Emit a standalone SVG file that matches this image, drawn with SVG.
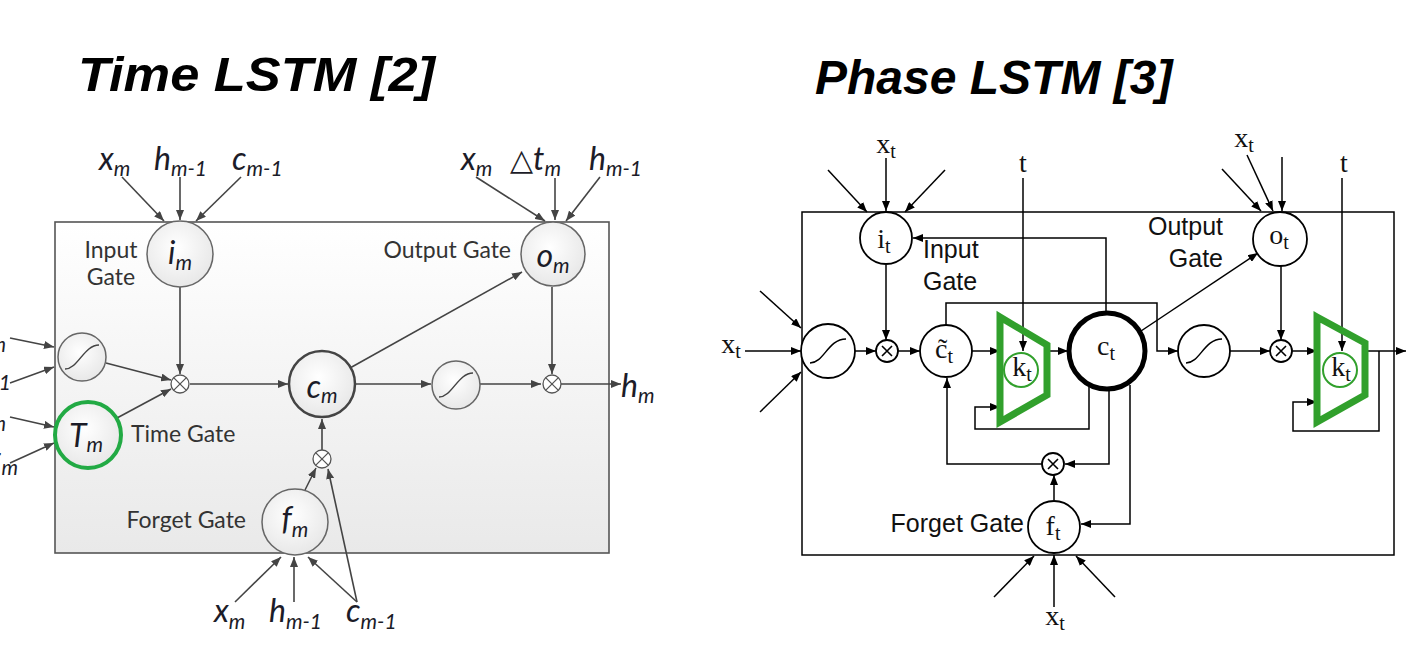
<svg xmlns="http://www.w3.org/2000/svg" width="1406" height="656" viewBox="0 0 1406 656">
<defs>
<linearGradient id="boxg" x1="0" y1="0" x2="0" y2="1"><stop offset="0" stop-color="#ffffff"/><stop offset="1" stop-color="#e9e9e9"/></linearGradient>
<radialGradient id="cg" cx="0.45" cy="0.4" r="0.65"><stop offset="0" stop-color="#ffffff"/><stop offset="1" stop-color="#e6e6e6"/></radialGradient>
<marker id="ag" viewBox="0 0 10 8" refX="10" refY="4" markerWidth="10" markerHeight="8" markerUnits="userSpaceOnUse" orient="auto"><path d="M0,0 L10,4 L0,8 z" fill="#444"/></marker>
<marker id="ab" viewBox="0 0 10 8" refX="10" refY="4" markerWidth="10" markerHeight="8" markerUnits="userSpaceOnUse" orient="auto"><path d="M0,0 L10,4 L0,8 z" fill="#000"/></marker>
</defs>
<style>
.title{font-family:"Liberation Sans",Arial,sans-serif;font-weight:bold;font-style:italic;font-size:48px;fill:#000}
.tm{font-family:Lato,"Open Sans",sans-serif;font-style:italic;font-size:32px;fill:#1c1c28}
.tms{font-size:21px}
.tl{font-family:Lato,"Open Sans",sans-serif;font-size:23px;fill:#333}
.tc{fill:url(#cg);stroke:#666;stroke-width:1.5}
.tln{fill:none;stroke:#444;stroke-width:1.6;marker-end:url(#ag)}
.tx{fill:#fff;stroke:#555;stroke-width:1.3}
.pm{font-family:"Liberation Serif","DejaVu Serif",serif;font-size:28px;fill:#111}
.pms{font-size:20px}
.pl{font-family:"Liberation Sans",Arial,sans-serif;font-size:25px;fill:#111}
.pc{fill:#fff;stroke:#000;stroke-width:1.8}
.pln{fill:none;stroke:#000;stroke-width:1.5}
.pa{fill:none;stroke:#000;stroke-width:1.5;marker-end:url(#ab)}
.grn{fill:none;stroke:#31a02c;stroke-width:7;stroke-linejoin:miter}
.sig{fill:none;stroke:#444;stroke-width:1.5}
</style>
<rect width="1406" height="656" fill="#fff"/>

<text class="title" x="78" y="91" font-size="51" textLength="357" lengthAdjust="spacingAndGlyphs">Time LSTM [2]</text>
<text class="title" x="815" y="94">Phase LSTM [3]</text>

<!-- ================= Time LSTM ================= -->
<g id="tlstm-box"><rect x="55" y="222" width="554" height="331" fill="url(#boxg)" stroke="#555" stroke-width="1.6"/></g>

<g id="tlstm-connectors">
<line class="tln" x1="122" y1="177" x2="164" y2="221"/>
<line class="tln" x1="180" y1="177" x2="180" y2="220"/>
<line class="tln" x1="241" y1="177" x2="196" y2="221"/>
<line class="tln" x1="476" y1="177" x2="545" y2="221"/>
<line class="tln" x1="555" y1="178" x2="555" y2="220"/>
<line class="tln" x1="600" y1="177" x2="566" y2="221"/>
<line class="tln" x1="10" y1="338" x2="54" y2="347"/>
<line class="tln" x1="10" y1="383" x2="54" y2="367"/>
<line class="tln" x1="10" y1="417" x2="54" y2="427"/>
<line class="tln" x1="10" y1="463" x2="54" y2="443"/>
<line class="tln" x1="180" y1="287" x2="180" y2="374"/>
<line class="tln" x1="106" y1="363" x2="171" y2="380"/>
<line class="tln" x1="117" y1="418" x2="171" y2="389"/>
<line class="tln" x1="190" y1="384" x2="288" y2="384"/>
<line class="tln" x1="322" y1="450" x2="322" y2="419"/>
<line class="tln" x1="305" y1="490" x2="316" y2="468"/>
<line class="tln" x1="357" y1="602" x2="328" y2="469"/>
<line class="tln" x1="235" y1="602" x2="281" y2="557"/>
<line class="tln" x1="294" y1="602" x2="294" y2="557"/>
<line class="tln" x1="357" y1="602" x2="308" y2="557"/>
<line class="tln" x1="355" y1="384" x2="431" y2="384"/>
<line class="tln" x1="480" y1="384" x2="541" y2="384"/>
<line class="tln" x1="552" y1="287" x2="552" y2="374"/>
<line class="tln" x1="561" y1="384" x2="621" y2="384"/>
<line class="tln" x1="350" y1="368" x2="522" y2="272"/>
</g>

<g id="t-input-gate"><circle class="tc" cx="180" cy="254" r="33"/><text class="tm" x="180" y="264" text-anchor="middle">i<tspan class="tms" dy="6">m</tspan></text>
<text class="tl" x="111" y="258" text-anchor="middle">Input</text><text class="tl" x="111" y="285" text-anchor="middle">Gate</text></g>
<g id="t-output-gate"><circle class="tc" cx="553" cy="254" r="32"/><text class="tm" x="553" y="267" text-anchor="middle">o<tspan class="tms" dy="6">m</tspan></text>
<text class="tl" x="511" y="258" text-anchor="end">Output Gate</text></g>
<g id="t-sigmoid1"><circle class="tc" cx="82" cy="357" r="24"/><path class="sig" d="M65,369 C78,369 84,345 99,345"/></g>
<g id="t-time-gate"><circle cx="88" cy="435" r="33" fill="url(#cg)" stroke="#22aa44" stroke-width="4"/><text class="tm" x="86" y="447" text-anchor="middle" font-size="34">T<tspan class="tms" dy="5">m</tspan></text>
<text class="tl" x="131" y="442">Time Gate</text></g>
<g id="t-mult1"><circle class="tx" cx="180" cy="384" r="9"/><path d="M173.6,377.6 L186.4,390.4 M186.4,377.6 L173.6,390.4" stroke="#555" stroke-width="1.3"/></g>
<g id="t-cell"><circle cx="322" cy="384" r="33" fill="url(#cg)" stroke="#444" stroke-width="2.5"/><text class="tm" x="322" y="398" text-anchor="middle">c<tspan class="tms" dy="5">m</tspan></text></g>
<g id="t-mult2"><circle class="tx" cx="322" cy="459" r="9"/><path d="M315.6,452.6 L328.4,465.4 M328.4,452.6 L315.6,465.4" stroke="#555" stroke-width="1.3"/></g>
<g id="t-forget-gate"><circle class="tc" cx="295" cy="522" r="33"/><text class="tm" x="295" y="530" text-anchor="middle">f<tspan class="tms" dy="7">m</tspan></text>
<text class="tl" x="246" y="528" text-anchor="end">Forget Gate</text></g>
<g id="t-sigmoid2"><circle class="tc" cx="456" cy="385" r="24"/><path class="sig" d="M439,397 C452,397 458,373 473,373"/></g>
<g id="t-mult3"><circle class="tx" cx="552" cy="384" r="9"/><path d="M545.6,377.6 L558.4,390.4 M558.4,377.6 L545.6,390.4" stroke="#555" stroke-width="1.3"/></g>

<g id="t-labels">
<text class="tm" x="99" y="170">x<tspan class="tms" dy="6">m</tspan></text>
<text class="tm" x="154" y="170">h<tspan class="tms" dy="6">m-1</tspan></text>
<text class="tm" x="232" y="170">c<tspan class="tms" dy="6">m-1</tspan></text>
<text class="tm" x="461" y="170">x<tspan class="tms" dy="6">m</tspan></text>
<text class="tm" x="510" y="170"><tspan font-family="DejaVu Sans" font-style="normal" font-size="30">△</tspan>t<tspan class="tms" dy="6">m</tspan></text>
<text class="tm" x="589" y="170">h<tspan class="tms" dy="6">m-1</tspan></text>
<text class="tm" x="214" y="622">x<tspan class="tms" dy="7">m</tspan></text>
<text class="tm" x="269" y="622">h<tspan class="tms" dy="7">m-1</tspan></text>
<text class="tm" x="346" y="622">c<tspan class="tms" dy="7">m-1</tspan></text>
<text class="tm" x="621" y="397">h<tspan class="tms" dy="6">m</tspan></text>
<text class="tm" x="6" y="347" text-anchor="end">x<tspan class="tms" dy="5">m</tspan></text>
<text class="tm" x="11" y="385" text-anchor="end">h<tspan class="tms" dy="5">m-1</tspan></text>
<text class="tm" x="6" y="426" text-anchor="end">x<tspan class="tms" dy="5">m</tspan></text>
<text class="tm" x="18" y="470" text-anchor="end">t<tspan class="tms" dy="5">m</tspan></text>
</g>

<!-- ================= Phase LSTM ================= -->
<g id="plstm-box"><rect x="802" y="212" width="592" height="343" fill="#fff" stroke="#000" stroke-width="1.5"/></g>

<g id="plstm-connectors">
<line class="pa" x1="886" y1="158" x2="886" y2="211"/>
<line class="pa" x1="828" y1="170" x2="867" y2="212"/>
<line class="pa" x1="945" y1="170" x2="905" y2="212"/>
<line class="pa" x1="745" y1="351" x2="801" y2="351"/>
<line class="pa" x1="760" y1="291" x2="801" y2="328"/>
<line class="pa" x1="760" y1="412" x2="801" y2="372"/>
<line class="pa" x1="886" y1="265" x2="886" y2="340"/>
<line class="pa" x1="855" y1="351" x2="876" y2="351"/>
<line class="pa" x1="898" y1="351" x2="920" y2="351"/>
<line class="pa" x1="972" y1="351" x2="1000" y2="351"/>
<line class="pa" x1="1047" y1="351" x2="1068" y2="351"/>
<line class="pa" x1="1023" y1="178" x2="1023" y2="351"/>
<polyline class="pa" points="1106,312 1106,238 913,238"/>
<polyline class="pa" points="946,325 946,303 1157,303 1157,351 1178,351"/>
<polyline class="pa" points="1089,386 1089,429 975,429 975,407 1000,407"/>
<polyline class="pa" points="1109,390 1109,464 1065,464"/>
<polyline class="pa" points="1042,464 947,464 947,378"/>
<line class="pa" x1="1054" y1="500" x2="1054" y2="475"/>
<polyline class="pa" points="1130,385 1130,524 1081,524"/>
<line class="pa" x1="1141" y1="331" x2="1258" y2="253"/>
<line class="pa" x1="1230" y1="351" x2="1270" y2="351"/>
<line class="pa" x1="1281" y1="266" x2="1281" y2="340"/>
<line class="pa" x1="1222" y1="169" x2="1261" y2="211"/>
<line class="pa" x1="1247" y1="155" x2="1273" y2="211"/>
<line class="pa" x1="1282" y1="157" x2="1282" y2="211"/>
<line class="pa" x1="1342" y1="178" x2="1342" y2="351"/>
<line class="pa" x1="1292" y1="351" x2="1317" y2="351"/>
<line class="pa" x1="1365" y1="351" x2="1406" y2="351"/>
<polyline class="pa" points="1379,351 1379,431 1293,431 1293,402 1317,402"/>
<line class="pa" x1="1054" y1="607" x2="1054" y2="555"/>
<line class="pa" x1="994" y1="597" x2="1034" y2="556"/>
<line class="pa" x1="1115" y1="597" x2="1076" y2="556"/>
</g>

<g id="p-input-gate"><circle class="pc" cx="886" cy="238" r="26"/><text class="pm" x="884" y="248" text-anchor="middle">i<tspan class="pms" dy="5">t</tspan></text>
<text class="pl" x="923" y="258">Input</text><text class="pl" x="923" y="290">Gate</text></g>
<g id="p-sigmoid1"><circle class="pc" cx="828" cy="351" r="27"/><path class="pln" d="M810,363 C824,363 828,339 846,339"/></g>
<g id="p-mult1"><circle class="pc" cx="887" cy="351" r="11"/><path d="M882,346 L892,356 M892,346 L882,356" stroke="#000" stroke-width="1.6"/></g>
<g id="p-ctilde"><circle class="pc" cx="946" cy="351" r="26"/><text class="pm" x="944" y="358" text-anchor="middle">c̃<tspan class="pms" dy="5">t</tspan></text></g>
<g id="p-kgate1"><polygon class="grn" points="1000,317 1047,345 1047,395 1000,422"/><circle cx="1021" cy="370" r="17" fill="#fff" stroke="#31a02c" stroke-width="2"/><text class="pm" x="1022" y="376" text-anchor="middle">k<tspan class="pms" dy="5">t</tspan></text></g>
<g id="p-cell"><circle cx="1107" cy="351" r="38" fill="#fff" stroke="#000" stroke-width="5"/><text class="pm" x="1106" y="355" text-anchor="middle">c<tspan class="pms" dy="5">t</tspan></text></g>
<g id="p-sigmoid2"><circle class="pc" cx="1204" cy="351" r="26"/><path class="pln" d="M1186,363 C1200,363 1204,339 1222,339"/></g>
<g id="p-mult2"><circle class="pc" cx="1281" cy="351" r="11"/><path d="M1276,346 L1286,356 M1286,346 L1276,356" stroke="#000" stroke-width="1.6"/></g>
<g id="p-output-gate"><circle class="pc" cx="1280" cy="239" r="27"/><text class="pm" x="1279" y="244" text-anchor="middle">o<tspan class="pms" dy="5">t</tspan></text>
<text class="pl" x="1223" y="235" text-anchor="end">Output</text><text class="pl" x="1223" y="267" text-anchor="end">Gate</text></g>
<g id="p-kgate2"><polygon class="grn" points="1317,317 1365,343 1365,395 1317,422"/><circle cx="1340" cy="370" r="17" fill="#fff" stroke="#31a02c" stroke-width="2"/><text class="pm" x="1341" y="376" text-anchor="middle">k<tspan class="pms" dy="5">t</tspan></text></g>
<g id="p-mult3"><circle class="pc" cx="1053" cy="464" r="11"/><path d="M1048,459 L1058,469 M1058,459 L1048,469" stroke="#000" stroke-width="1.6"/></g>
<g id="p-forget-gate"><circle class="pc" cx="1054" cy="527" r="26"/><text class="pm" x="1053" y="535" text-anchor="middle">f<tspan class="pms" dy="5">t</tspan></text>
<text class="pl" x="1024" y="532" text-anchor="end">Forget Gate</text></g>

<g id="p-labels">
<text class="pm" x="886" y="153" text-anchor="middle">x<tspan class="pms" dy="5">t</tspan></text>
<text class="pm" x="1023" y="172" text-anchor="middle">t</text>
<text class="pm" x="1244" y="147" text-anchor="middle">x<tspan class="pms" dy="5">t</tspan></text>
<text class="pm" x="1344" y="172" text-anchor="middle">t</text>
<text class="pm" x="731" y="353" text-anchor="middle">x<tspan class="pms" dy="5">t</tspan></text>
<text class="pm" x="1055" y="625" text-anchor="middle">x<tspan class="pms" dy="5">t</tspan></text>
</g>
</svg>
